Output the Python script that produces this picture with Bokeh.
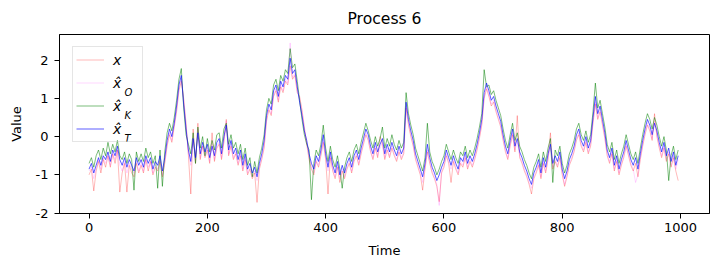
from bokeh.plotting import figure
from bokeh.models import Range1d, FixedTicker, Legend, LegendItem, Label
from bokeh.embed import file_html
from bokeh.resources import INLINE

title_text = "Process 6"
x_label = "Time"
y_label = "Value"
x_ticks = [0, 200, 400, 600, 800, 1000]
y_ticks = [-2, -1, 0, 1, 2]
legend_labels = ["x", "x\u0302", "x\u0302", "x\u0302"]
legend_subs = ["", "O", "K", "T"]

time = list(range(0, 1000, 4))

x_true = [
    -1.00, -0.85, -1.42, -0.90, -0.65, -0.95, -0.60, -0.80, -0.50, -0.80,
    -0.45, -0.70, -0.35, -1.45, -0.95, -0.70, -1.45, -0.75, -0.95, -1.05,
    -0.70, -0.95, -0.75, -0.95, -0.60, -0.90, -0.65, -1.00, -0.80, -0.90,
    -0.65, -1.05, -0.70, -0.25, 0.05, -0.15, 0.25, 0.65, 1.20, 1.45,
    1.00, 0.35, -0.50, -1.50, 0.20, -0.70, 0.35, -0.60, -0.25, -0.55,
    -0.35, -0.70, 0.10, -0.65, -0.30, -0.20, -0.60, -0.15, 0.45, -0.50,
    -0.25, -0.60, -0.45, -0.75, -0.50, -0.90, -0.60, -1.00, -0.85, -1.10,
    -0.95, -1.72, -0.85, -0.60, -0.30, 0.40, 0.70, 0.55, 1.05, 1.20,
    0.90, 1.30, 1.15, 1.45, 1.35, 1.85, 1.50, 1.60, 1.15, 1.05,
    0.70, 0.25, -0.20, -0.60, -0.85, -1.00, -0.65, -0.80, -0.50, -0.15,
    -0.60, -1.50, -0.55, -0.90, -1.10, -0.80, -1.20, -0.90, -1.10, -0.85,
    -0.70, -0.95, -0.65, -0.50, -0.75, -0.45, -0.20, 0.05, -0.10, -0.40,
    -0.60, -0.30, -0.55, 0.00, -0.20, -0.60, -0.35, -0.55, -0.30, -0.50,
    -0.65, -0.40, -0.60, -0.45, 0.75, 0.30, 0.00, -0.25, -0.60, -0.80,
    -1.00, -1.40, -0.85, -0.40, -0.70, -0.95, -1.10, -1.30, -1.70, -0.95,
    -0.80, -0.50, -0.70, -1.20, -0.65, -0.85, -1.00, -0.70, -0.80, -0.55,
    -0.85, -0.65, -0.80, -0.60, -0.35, -0.05, 0.30, 1.00, 1.25, 1.05,
    0.80, 0.90, 0.65, 0.45, 0.25, -0.10, -0.40, -0.60, -0.25, 0.05,
    -0.40, 0.55, -0.55, -0.70, -0.90, -1.05, -1.25, -1.50, -1.10, -0.95,
    -0.75, -1.10, -0.70, -0.95, -0.60, 0.10, -0.85, -0.65, -0.80, -0.55,
    -1.00, -1.30, -1.05, -0.75, -0.60, -0.40, -0.10, 0.05, -0.25, -0.40,
    -0.15, -0.45, -0.25, 0.35, 0.85, 0.45, 0.65, 0.30, -0.05, -0.50,
    -0.70, -0.45, -0.90, -0.65, -1.00, -0.75, -0.55, -0.25, -0.50, -0.75,
    -0.90, -0.70, -1.05, -0.60, -0.25, 0.05, 0.30, 0.15, -0.10, 0.60,
    0.00, -0.30, -0.55, -0.30, -0.65, -0.45, -0.80, -0.55, -0.90, -1.15,
]

x_hat_O = [
    -0.90, -0.80, -1.10, -0.85, -0.60, -0.85, -0.55, -0.70, -0.50, -0.75,
    -0.45, -0.60, -0.35, -0.75, -0.90, -0.65, -0.95, -0.70, -0.85, -0.95,
    -0.65, -0.90, -0.70, -0.90, -0.60, -0.80, -0.65, -0.95, -0.75, -0.85,
    -0.60, -1.00, -0.65, -0.20, 0.10, -0.10, 0.30, 0.70, 1.25, 1.50,
    0.95, 0.30, -0.45, -0.75, -0.05, -0.65, 0.20, -0.55, -0.25, -0.50,
    -0.30, -0.65, -0.20, -0.60, -0.25, -0.15, -0.55, -0.10, 0.40, -0.45,
    -0.20, -0.55, -0.40, -0.70, -0.45, -0.85, -0.55, -0.95, -0.80, -1.05,
    -0.90, -1.15, -0.80, -0.55, -0.25, 0.45, 0.75, 0.60, 1.10, 1.25,
    0.95, 1.35, 1.20, 1.50, 1.40, 2.45, 1.55, 1.65, 1.20, 1.00,
    0.65, 0.20, -0.15, -0.55, -0.80, -0.95, -0.60, -0.75, -0.45, -0.10,
    -0.55, -0.90, -0.50, -0.85, -1.05, -0.75, -1.10, -0.85, -1.05, -0.80,
    -0.65, -0.90, -0.60, -0.45, -0.70, -0.40, -0.15, 0.10, -0.05, -0.35,
    -0.55, -0.25, -0.50, -0.30, -0.15, -0.55, -0.30, -0.50, -0.25, -0.45,
    -0.60, -0.35, -0.55, -0.40, 0.80, 0.35, 0.05, -0.20, -0.55, -0.75,
    -0.95, -1.20, -0.80, -0.35, -0.65, -0.90, -1.05, -1.25, -1.80, -0.90,
    -0.75, -0.45, -0.65, -0.85, -0.60, -0.80, -0.95, -0.65, -0.75, -0.50,
    -0.80, -0.60, -0.75, -0.55, -0.30, 0.00, 0.35, 1.05, 1.30, 1.10,
    0.85, 0.95, 0.70, 0.50, 0.30, -0.05, -0.35, -0.55, -0.20, 0.10,
    -0.35, -0.15, -0.50, -0.65, -0.85, -1.00, -1.20, -1.35, -1.05, -0.90,
    -0.70, -1.05, -0.65, -0.90, -0.55, -0.30, -0.80, -0.60, -0.75, -0.50,
    -0.95, -1.25, -1.00, -0.70, -0.55, -0.35, -0.05, 0.10, -0.20, -0.35,
    -0.10, -0.40, -0.20, 0.40, 0.90, 0.50, 0.70, 0.35, 0.00, -0.45,
    -0.65, -0.40, -0.85, -0.60, -0.95, -0.70, -0.50, -0.20, -0.45, -0.70,
    -0.85, -1.20, -1.00, -0.55, -0.20, 0.10, 0.35, 0.20, -0.05, 0.40,
    0.05, -0.25, -0.50, -0.25, -0.60, -0.40, -0.75, -0.50, -0.85, -0.60,
]

x_hat_K = [
    -0.70, -0.55, -0.80, -0.50, -0.35, -0.60, -0.30, -0.50, -0.15, -0.45,
    -0.20, -0.40, -0.10, -0.50, -0.60, -0.40, -0.70, -0.45, -0.60, -1.40,
    -0.40, -0.65, -0.45, -0.65, -0.30, -0.55, -0.40, -0.70, -0.50, -1.35,
    -0.35, -1.30, -0.40, 0.10, 0.35, 0.15, 0.50, 0.95, 1.50, 1.78,
    0.75, 0.05, -0.20, -0.45, 0.10, -0.70, 0.25, -0.30, 0.00, -0.50,
    -0.05, -0.40, -0.10, -0.35, 0.05, 0.10, -0.30, 0.20, 0.35, -0.20,
    0.05, -0.30, -0.15, -0.45, -0.20, -0.60, -0.30, -0.75, -0.55, -1.05,
    -0.65, -0.95, -0.55, -0.30, 0.05, 0.70, 1.00, 0.85, 1.35, 1.50,
    1.20, 1.60, 1.45, 1.75, 1.65, 2.30, 1.80, 1.90, 1.45, 0.95,
    0.45, 0.05, -0.20, -0.35, -1.65, -0.70, -0.35, -0.50, -0.20, 0.30,
    -0.30, -0.65, -0.25, -0.60, -0.80, -0.50, -0.85, -1.35, -0.80, -0.55,
    -0.40, -0.65, -0.35, -0.20, -0.45, -0.15, 0.10, 0.35, 0.15, -0.10,
    -0.30, 0.00, -0.25, -0.05, 0.25, -0.30, -0.05, -0.25, 0.05, -0.20,
    -0.35, -0.10, -0.30, -0.15, 1.15, 0.60, 0.30, 0.05, -0.30, -0.50,
    -0.70, -0.90, -0.55, 0.35, -0.40, -0.65, -0.80, -1.00, -0.85, -0.65,
    -0.50, -0.20, -0.40, -0.60, -0.35, -0.55, -0.70, -0.40, -0.50, -0.25,
    -0.55, -0.35, -0.50, -0.30, -0.05, 0.25, 0.60, 1.75, 1.30, 1.35,
    1.10, 1.20, 0.95, 0.75, 0.55, 0.20, -0.10, -0.30, 0.05, 0.35,
    -0.10, 0.10, -0.25, -0.40, -0.60, -0.75, -0.95, -1.10, -0.80, -0.65,
    -0.45, -0.80, -0.40, -0.65, -0.30, -0.05, -1.20, -0.35, -0.50, -0.25,
    -0.70, -0.95, -0.75, -0.45, -0.30, -0.10, 0.20, 0.35, 0.05, -0.10,
    0.15, -0.15, 0.05, 0.65, 1.40, 0.75, 0.95, 0.60, 0.25, -0.20,
    -0.40, -0.15, -0.60, -0.35, -0.70, -0.45, -0.25, 0.05, -0.20, -0.45,
    -0.60, -0.40, -0.70, -0.30, 0.05, 0.35, 0.60, 0.45, 0.20, 0.50,
    0.30, 0.00, -0.25, 0.00, -0.35, -1.15, -0.50, -0.25, -0.60, -0.35,
]

x_hat_T = [
    -0.85, -0.70, -0.95, -0.75, -0.55, -0.75, -0.50, -0.60, -0.40, -0.65,
    -0.35, -0.50, -0.25, -0.60, -0.75, -0.55, -0.80, -0.60, -0.75, -0.90,
    -0.55, -0.75, -0.60, -0.80, -0.50, -0.70, -0.55, -0.85, -0.65, -0.75,
    -0.50, -0.90, -0.55, -0.10, 0.20, 0.00, 0.35, 0.80, 1.35, 1.60,
    0.85, 0.20, -0.35, -0.65, -0.05, -0.55, 0.10, -0.45, -0.15, -0.40,
    -0.20, -0.55, -0.25, -0.50, -0.15, -0.05, -0.45, 0.00, 0.30, -0.35,
    -0.10, -0.45, -0.30, -0.60, -0.35, -0.75, -0.45, -0.85, -0.70, -0.95,
    -0.80, -1.05, -0.70, -0.45, -0.10, 0.55, 0.85, 0.70, 1.20, 1.35,
    1.05, 1.45, 1.30, 1.60, 1.50, 2.05, 1.65, 1.75, 1.30, 0.90,
    0.55, 0.15, -0.10, -0.45, -0.70, -0.85, -0.50, -0.65, -0.35, 0.05,
    -0.45, -0.80, -0.40, -0.75, -0.95, -0.65, -1.00, -0.75, -0.95, -0.70,
    -0.55, -0.80, -0.50, -0.35, -0.60, -0.30, -0.05, 0.20, 0.05, -0.25,
    -0.45, -0.15, -0.40, -0.20, -0.05, -0.45, -0.20, -0.40, -0.15, -0.35,
    -0.50, -0.25, -0.45, -0.30, 0.90, 0.45, 0.15, -0.10, -0.45, -0.65,
    -0.85, -1.05, -0.70, -0.20, -0.55, -0.80, -0.95, -1.15, -1.00, -0.80,
    -0.65, -0.35, -0.55, -0.75, -0.50, -0.70, -0.85, -0.55, -0.65, -0.40,
    -0.70, -0.50, -0.65, -0.45, -0.20, 0.10, 0.45, 1.15, 1.40, 1.20,
    0.95, 1.05, 0.80, 0.60, 0.40, 0.05, -0.25, -0.45, -0.10, 0.20,
    -0.25, -0.05, -0.40, -0.55, -0.75, -0.90, -1.10, -1.25, -0.95, -0.80,
    -0.60, -0.95, -0.55, -0.80, -0.45, -0.20, -0.70, -0.50, -0.65, -0.40,
    -0.85, -1.10, -0.90, -0.60, -0.45, -0.25, 0.05, 0.20, -0.10, -0.25,
    0.00, -0.30, -0.10, 0.50, 1.05, 0.60, 0.80, 0.45, 0.10, -0.35,
    -0.55, -0.30, -0.75, -0.50, -0.85, -0.60, -0.40, -0.10, -0.35, -0.60,
    -0.75, -0.55, -0.85, -0.45, -0.10, 0.20, 0.45, 0.30, 0.05, 0.35,
    0.15, -0.15, -0.40, -0.15, -0.50, -0.30, -0.65, -0.40, -0.75, -0.50,
]

FONT = "DejaVu Sans"

p = figure(width=721, height=272, output_backend="svg", toolbar_location=None,
           x_range=Range1d(-49.95, 1048.95), y_range=Range1d(-2.01, 2.67),
           min_border_left=59, min_border_right=12, min_border_top=33,
           min_border_bottom=59, background_fill_color="white",
           border_fill_color="white")

p.title.text = title_text
p.title.text_font = FONT
p.title.text_font_size = "15.6px"
p.title.text_font_style = "normal"
p.title.text_color = "black"
p.title.align = "center"
p.title.standoff = 14

p.grid.visible = False
p.outline_line_color = "black"
p.outline_line_width = 1
p.outline_line_alpha = 1

for ax in (p.xaxis[0], p.yaxis[0]):
    ax.major_label_text_font = FONT
    ax.major_label_text_font_size = "13px"
    ax.major_label_text_color = "black"
    ax.axis_label_text_font = FONT
    ax.axis_label_text_font_size = "13px"
    ax.axis_label_text_font_style = "normal"
    ax.axis_label_text_color = "black"
    ax.axis_line_color = "black"
    ax.major_tick_line_color = "black"
    ax.major_tick_out = 5
    ax.major_tick_in = 0
    ax.minor_tick_line_color = None

p.xaxis[0].major_label_standoff = 4
p.yaxis[0].major_label_standoff = 6
p.xaxis[0].ticker = FixedTicker(ticks=x_ticks)
p.yaxis[0].ticker = FixedTicker(ticks=y_ticks)
p.yaxis[0].major_label_overrides = {t: str(t) for t in y_ticks}
p.xaxis[0].axis_label = x_label
p.yaxis[0].axis_label = y_label
p.xaxis[0].axis_label_standoff = 8
p.yaxis[0].axis_label_standoff = 9

r_x = p.line(time, x_true, line_color="#ff0000", line_alpha=0.35, line_width=0.8)
r_o = p.line(time, x_hat_O, line_color="#ff00ff", line_alpha=0.2, line_width=0.8)
r_k = p.line(time, x_hat_K, line_color="#008000", line_alpha=0.65, line_width=0.8)
r_t = p.line(time, x_hat_T, line_color="#0000ff", line_alpha=0.8, line_width=0.8)

legend = Legend(items=[LegendItem(label=legend_labels[i], renderers=[r])
                       for i, r in enumerate([r_x, r_o, r_k, r_t])],
                location=(13, 71), padding=3, spacing=4,
                glyph_width=28, glyph_height=19, label_height=19,
                label_width=26, label_standoff=9, label_text_font=FONT,
                label_text_font_size="14px", label_text_font_style="italic",
                label_text_color="black", border_line_color="#cccccc",
                border_line_width=1, background_fill_alpha=0.0)
p.add_layout(legend)

sub_y = [0, 116, 93, 70]
for i, sub in enumerate(legend_subs):
    if sub:
        p.add_layout(Label(x=65, y=sub_y[i], x_units="screen",
                           y_units="screen", text=sub, text_font=FONT,
                           text_font_size="10px", text_font_style="italic",
                           text_color="black", level="overlay"))

open("out.html", "w").write(file_html(p, INLINE))
